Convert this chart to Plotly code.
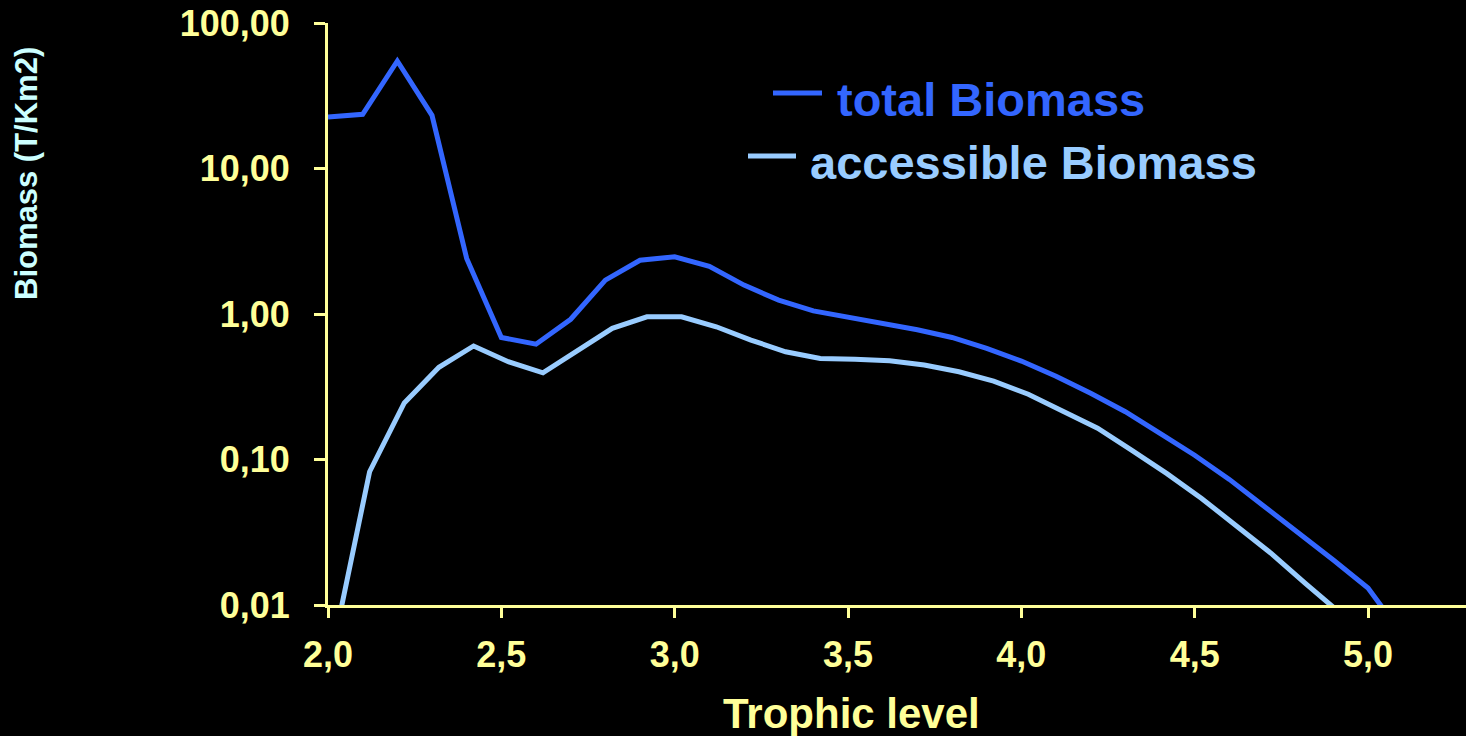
import plotly.graph_objects as go

# Trophic level classes and biomass per class (T/Km2)
total_level = [2.0, 2.1, 2.2, 2.3, 2.4, 2.5, 2.6, 2.7, 2.8, 2.9, 3.0, 3.1, 3.2, 3.3,
               3.4, 3.5, 3.6, 3.7, 3.8, 3.9, 4.0, 4.1, 4.2, 4.3, 4.4, 4.5, 4.6, 4.7,
               4.8, 4.9, 5.0, 5.1]
total_biomass = [22.6, 23.6, 54.8, 23.2, 2.41, 0.69, 0.62, 0.92, 1.71, 2.34, 2.47, 2.13,
                 1.58, 1.245, 1.05, 0.95, 0.85, 0.78, 0.69, 0.58, 0.475, 0.374, 0.285,
                 0.213, 0.151, 0.107, 0.073, 0.048, 0.031, 0.0204, 0.0131, 0.0062]

access_level = [2.02, 2.12, 2.22, 2.32, 2.42, 2.52, 2.62, 2.72, 2.82, 2.92, 3.02, 3.12,
                3.22, 3.32, 3.42, 3.52, 3.62, 3.72, 3.82, 3.92, 4.02, 4.12, 4.22, 4.32,
                4.42, 4.52, 4.62, 4.72, 4.82, 4.92]
access_biomass = [0.0059, 0.0824, 0.245, 0.43, 0.603, 0.47, 0.394, 0.565, 0.797, 0.957,
                  0.957, 0.817, 0.662, 0.55, 0.495, 0.488, 0.477, 0.446, 0.401, 0.346,
                  0.281, 0.215, 0.164, 0.115, 0.080, 0.054, 0.0349, 0.0227, 0.014, 0.0088]

x_tick_vals = [2.0, 2.5, 3.0, 3.5, 4.0, 4.5, 5.0]
x_tick_text = ["2,0", "2,5", "3,0", "3,5", "4,0", "4,5", "5,0"]
y_tick_vals = [0.01, 0.1, 1, 10, 100]
y_tick_text = ["0,01", "0,10", "1,00", "10,00", "100,00"]

TOTAL_COLOR = "#3366FF"
ACCESS_COLOR = "#99CCFF"
AXIS_COLOR = "#FFFF99"
TITLE_Y_COLOR = "#CCFFFF"
FONT = "Arial, Liberation Sans, sans-serif"

W, H = 1466, 736
L, R, T, B = 328, 0, 23, 131
PW, PH = W - L - R, H - T - B


def px(xp):
    return (xp - L) / PW


def py(yp):
    return (H - B - yp) / PH


fig = go.Figure()
fig.add_trace(go.Scatter(x=total_level, y=total_biomass, mode="lines",
                         line=dict(color=TOTAL_COLOR, width=5), name="total Biomass"))
fig.add_trace(go.Scatter(x=access_level, y=access_biomass, mode="lines",
                         line=dict(color=ACCESS_COLOR, width=5), name="accessible Biomass"))

# legend drawn as line samples + labels
legend_items = [
    ("total Biomass", TOTAL_COLOR, 773, 822, 93, 835, 100),
    ("accessible Biomass", ACCESS_COLOR, 748, 796, 156, 808, 162),
]
for label, color, x0, x1, ly, tx, ty in legend_items:
    fig.add_shape(type="line", xref="paper", yref="paper",
                  x0=px(x0), x1=px(x1), y0=py(ly), y1=py(ly),
                  line=dict(color=color, width=5))
    fig.add_annotation(text=f"<b>{label}</b>", xref="paper", yref="paper",
                       x=px(tx), y=py(ty), xanchor="left", yanchor="middle",
                       showarrow=False, font=dict(family=FONT, size=47, color=color))

# axis titles
fig.add_annotation(text="<b>Trophic level</b>", xref="paper", yref="paper",
                   x=px(851), y=py(713), xanchor="center", yanchor="middle",
                   showarrow=False, font=dict(family=FONT, size=42, color=AXIS_COLOR))
fig.add_annotation(text="<b>Biomass (T/Km2)</b>", xref="paper", yref="paper",
                   x=px(27), y=py(174), xanchor="center", yanchor="middle",
                   textangle=-90, showarrow=False,
                   font=dict(family=FONT, size=31, color=TITLE_Y_COLOR))

fig.update_layout(
    width=W, height=H,
    margin=dict(l=L, r=R, t=T, b=B),
    paper_bgcolor="black", plot_bgcolor="black",
    showlegend=False,
    font=dict(family=FONT),
    xaxis=dict(
        range=[2.0, 2.0 + PW / 346.67],
        tickvals=x_tick_vals, ticktext=[f"<b>{t}</b>" for t in x_tick_text],
        tickfont=dict(size=36, color=AXIS_COLOR, family=FONT),
        ticks="outside", ticklen=10, tickwidth=3, tickcolor=AXIS_COLOR,
        showline=True, linecolor=AXIS_COLOR, linewidth=3,
        showgrid=False, zeroline=False, ticklabelstandoff=6,
    ),
    yaxis=dict(
        type="log", range=[-2, 2],
        tickvals=y_tick_vals, ticktext=[f"<b>{t}</b>" for t in y_tick_text],
        tickfont=dict(size=36, color=AXIS_COLOR, family=FONT),
        ticks="outside", ticklen=11, tickwidth=3, tickcolor=AXIS_COLOR,
        showline=True, linecolor=AXIS_COLOR, linewidth=3,
        showgrid=False, zeroline=False, ticklabelstandoff=17,
    ),
)

fig.write_html("out.html")
